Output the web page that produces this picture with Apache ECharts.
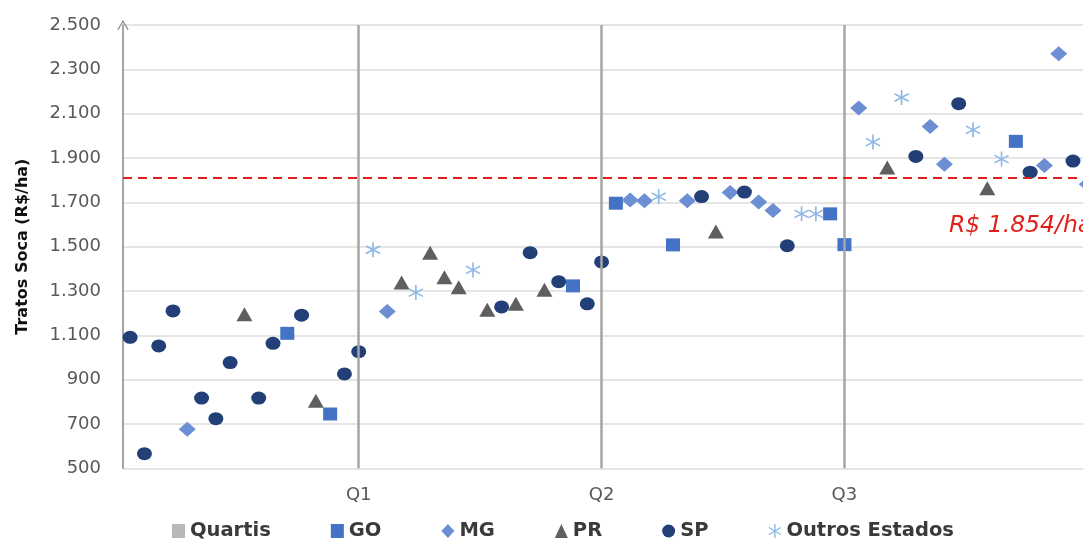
<!DOCTYPE html>
<html>
<head>
<meta charset="utf-8">
<script src="https://cdn.jsdelivr.net/npm/echarts@6/dist/echarts.min.js"></script>
<style>
html,body{margin:0;padding:0;background:#fff;}
#chart{width:1083px;height:540px;}
</style>
</head>
<body>
<div id="chart"></div>
<script>
// ---- data ----
const states = [
  'SP','SP','SP','SP','MG','SP','SP','SP','PR','SP','SP','GO','SP','PR','GO','SP','SP',
  'Outros Estados','MG','PR','Outros Estados','PR','PR','PR','Outros Estados','PR','SP','PR','SP','PR','SP','GO','SP','SP',
  'GO','MG','MG','Outros Estados','GO','MG','SP','PR','MG','SP','MG','MG','SP','Outros Estados','Outros Estados','GO','GO',
  'MG','Outros Estados','PR','Outros Estados','SP','MG','MG','SP','Outros Estados','PR','Outros Estados','GO','SP','MG','MG','SP','MG'
];
const values = [
  1091,566,1052,1210,676,817,724,977,1195,817,1064,1109,1191,805,745,926,1026,
  1486,1207,1338,1293,1473,1362,1317,1395,1215,1228,1242,1473,1305,1342,1323,1242,1431,
  1696,1711,1707,1726,1508,1707,1726,1568,1744,1746,1701,1663,1504,1648,1648,1648,1509,
  2125,1972,1857,2173,1907,2042,1872,2145,2027,1764,1895,1975,1836,1866,2370,1886,1782
];
const quartileBoundaries = [16, 33, 50];
const quartileLabels = ['Q1', 'Q2', 'Q3'];
const yTicks = [500, 700, 900, 1100, 1300, 1500, 1700, 1900, 2100, 2300, 2500];
const referenceLineValue = 1810;
const referenceLabel = 'R$ 1.854/ha';
const seriesNames = ['GO', 'MG', 'PR', 'SP', 'Outros Estados'];

// ---- styles ----
const FONT = '"DejaVu Sans", sans-serif';
const asterisk = 'path://M9.1,1 L10.9,1 L10.9,19 L9.1,19 Z M2.66,4.72 L18.24,13.72 L17.34,15.28 L1.76,6.28 Z M1.76,13.72 L17.34,4.72 L18.24,6.28 L2.66,15.28 Z';
const styleBy = {
  'GO': {symbol: 'rect', size: [14, 13], color: '#4472c4'},
  'MG': {symbol: 'diamond', size: [17, 15], color: '#6b8fd2'},
  'PR': {symbol: 'triangle', size: [16, 14], color: '#5f5f5f'},
  'SP': {symbol: 'circle', size: [15, 13], color: '#223f78'},
  'Outros Estados': {symbol: asterisk, size: [15, 15], color: '#8fb8e6'}
};

function fmt(v) {
  const s = String(Math.round(v));
  return s.length > 3 ? s.slice(0, s.length - 3) + '.' + s.slice(-3) : s;
}

const chart = echarts.init(document.getElementById('chart'), null, {renderer: 'canvas'});

const scatterSeries = seriesNames.map(name => ({
  name: name,
  type: 'scatter',
  clip: false,
  symbol: styleBy[name].symbol,
  symbolSize: styleBy[name].size,
  itemStyle: {color: styleBy[name].color, opacity: 1},
  data: values.map((v, i) => states[i] === name ? [i, v] : null).filter(d => d !== null),
  z: 3
}));

const quartisSeries = {
  name: 'Quartis',
  type: 'scatter',
  data: [],
  itemStyle: {color: '#a6a6a6'},
  markLine: {
    silent: true,
    symbol: ['none', 'none'],
    lineStyle: {color: '#a6a6a6', width: 2.5, type: 'solid'},
    label: {
      show: true,
      position: 'start',
      distance: 18,
      color: '#595959',
      fontSize: 18,
      fontFamily: FONT,
      formatter: p => quartileLabels[quartileBoundaries.indexOf(p.value)]
    },
    data: quartileBoundaries.map(q => ({xAxis: q}))
  },
  z: 1
};

const refSeries = {
  name: 'ref',
  type: 'scatter',
  data: [],
  markLine: {
    silent: true,
    symbol: ['none', 'none'],
    lineStyle: {color: '#e0201c', width: 2, type: [9, 6]},
    label: {show: false},
    data: [{yAxis: referenceLineValue}]
  },
  z: 2
};

const option = {
  animation: false,
  backgroundColor: '#ffffff',
  grid: {left: 123, right: 0, top: 25, bottom: 71.7, containLabel: false},
  xAxis: {
    type: 'value',
    min: -0.5,
    max: 66.7,
    axisLine: {show: false},
    axisTick: {show: false},
    axisLabel: {show: false},
    splitLine: {show: false}
  },
  yAxis: {
    type: 'value',
    min: yTicks[0],
    max: yTicks[yTicks.length - 1],
    interval: yTicks[1] - yTicks[0],
    name: 'Tratos Soca (R$/ha)',
    nameLocation: 'middle',
    nameGap: 92,
    nameTextStyle: {fontFamily: FONT, fontSize: 16, fontWeight: 'bold', color: '#111111'},
    axisLine: {
      show: true,
      onZero: false,
      lineStyle: {color: '#878787', width: 1.5},
      symbol: ['none', 'path://M0,10 L6,0 L12,10 L10.8,10.6 L6,2.4 L1.2,10.6 Z'],
      symbolSize: [12, 10]
    },
    axisTick: {show: false},
    axisLabel: {
      margin: 22,
      fontFamily: FONT,
      fontSize: 18,
      color: '#595959',
      formatter: v => fmt(v)
    },
    splitLine: {show: true, lineStyle: {color: '#dcdcdc', width: 1.5}}
  },
  legend: {
    left: 167,
    top: 516,
    itemGap: 60,
    itemWidth: 13,
    itemHeight: 14,
    textStyle: {fontFamily: FONT, fontSize: 19.5, fontWeight: 'bold', color: '#3a3a3a'},
    data: [
      {name: 'Quartis', icon: 'rect', itemStyle: {color: '#a6a6a6'}},
      {name: 'GO', icon: 'rect'},
      {name: 'MG', icon: 'diamond'},
      {name: 'PR', icon: 'triangle'},
      {name: 'SP', icon: 'circle'},
      {name: 'Outros Estados', icon: asterisk}
    ]
  },
  graphic: [{
    type: 'text',
    left: 949,
    top: 214,
    silent: true,
    style: {
      text: referenceLabel,
      font: 'italic 23.5px "DejaVu Sans", sans-serif',
      fill: '#e0201c'
    }
  }],
  series: [quartisSeries, refSeries].concat(scatterSeries)
};

chart.setOption(option);
</script>
</body>
</html>
